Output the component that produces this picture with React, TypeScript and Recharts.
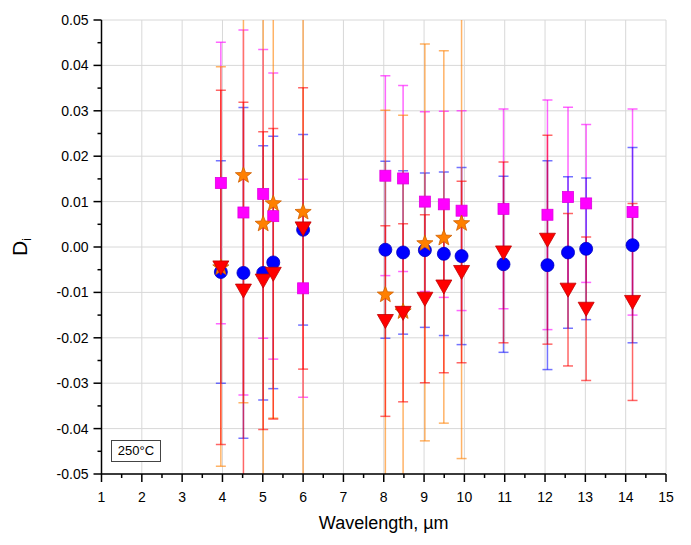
import React from "react";
import { ScatterChart, Scatter, XAxis, YAxis, CartesianGrid, ErrorBar } from "recharts";

// wavelength positions, µm (orange series only has the first 10)
const wavelength = [3.96, 4.52, 5.01, 5.26, 6.0, 8.04, 8.48, 9.02, 9.49, 9.93, 10.97, 12.06, 12.57, 13.02, 14.17];

const circleD = [-0.0055, -0.0057, -0.0057, -0.0034, 0.0038, -0.0006, -0.0012, -0.0007, -0.0015, -0.002, -0.0038, -0.004, -0.0012, -0.0004, 0.0004];
const circleErr = [0.0245, 0.0364, 0.028, 0.0278, 0.021, 0.0195, 0.018, 0.017, 0.018, 0.0195, 0.0194, 0.023, 0.0167, 0.0156, 0.0215];

const squareD = [0.0141, 0.0076, 0.0117, 0.0068, -0.0091, 0.0157, 0.0151, 0.01, 0.0094, 0.008, 0.0084, 0.0071, 0.011, 0.0096, 0.0077];
const squareErr = [0.031, 0.0402, 0.0318, 0.0315, 0.024, 0.022, 0.0205, 0.0198, 0.0205, 0.022, 0.022, 0.0253, 0.0198, 0.0174, 0.0227];

const starD = [-0.0043, 0.016, 0.0053, 0.0098, 0.0079, -0.0103, -0.014, 0.001, 0.0022, 0.0054];
const starErr = [0.044, 0.0503, 0.06, 0.0475, 0.065, 0.0404, 0.043, 0.0437, 0.041, 0.052];

const triD = [-0.0045, -0.0096, -0.0074, -0.0059, 0.0041, -0.0163, -0.0145, -0.0114, -0.0087, -0.0055, -0.0012, 0.0016, -0.0094, -0.0136, -0.0121];
const triErr = [0.039, 0.0415, 0.0328, 0.032, 0.031, 0.021, 0.0196, 0.0185, 0.019, 0.02, 0.0199, 0.023, 0.0168, 0.0158, 0.0217];

const xMajor = [1, 2, 3, 4, 5, 6, 7, 8, 9, 10, 11, 12, 13, 14, 15];
const xMinor = [1.5, 2.5, 3.5, 4.5, 5.5, 6.5, 7.5, 8.5, 9.5, 10.5, 11.5, 12.5, 13.5, 14.5];
const yMajor = [-0.05, -0.04, -0.03, -0.02, -0.01, 0, 0.01, 0.02, 0.03, 0.04, 0.05];
const yMinor = [-0.045, -0.035, -0.025, -0.015, -0.005, 0.005, 0.015, 0.025, 0.035, 0.045];

const FONT = '"Liberation Sans", Arial, sans-serif';

// plot box inside the chart (used only to clip the error bars)
const PLOT = { left: 101.5, top: 20, width: 564.5, height: 454 };

const makeSeries = (ys: number[], errs: number[]) =>
  ys.map((y, i) => ({ x: wavelength[i], y, err: errs[i] }));

const circleData = makeSeries(circleD, circleErr);
const squareData = makeSeries(squareD, squareErr);
const starData = makeSeries(starD, starErr);
const triData = makeSeries(triD, triErr);

const isMajor = (v: number, majors: number[]) => majors.some((m) => Math.abs(m - v) < 1e-9);

const BottomTick = (props: any) => {
  const { x, y, payload } = props;
  const major = isMajor(payload.value, xMajor);
  return (
    <g>
      <line x1={x} x2={x} y1={y} y2={y + (major ? 8 : 4)} stroke="#000" strokeWidth={1.5} />
      {major && (
        <text x={x} y={y + 28} textAnchor="middle" fontSize={14} fontFamily={FONT} fill="#000">
          {payload.value}
        </text>
      )}
    </g>
  );
};

const LeftTick = (props: any) => {
  const { x, y, payload } = props;
  const major = isMajor(payload.value, yMajor);
  return (
    <g>
      <line x1={x} x2={x - (major ? 8 : 4)} y1={y} y2={y} stroke="#000" strokeWidth={1.5} />
      {major && (
        <text x={x - 13} y={y + 5} textAnchor="end" fontSize={14} fontFamily={FONT} fill="#000">
          {payload.value.toFixed(2)}
        </text>
      )}
    </g>
  );
};

const TopTick = (props: any) => {
  const { x, y, payload } = props;
  const major = isMajor(payload.value, xMajor);
  return <line x1={x} x2={x} y1={y} y2={y + (major ? 8 : 4)} stroke="#000" strokeWidth={1.5} />;
};

const RightTick = (props: any) => {
  const { x, y, payload } = props;
  const major = isMajor(payload.value, yMajor);
  return <line x1={x} x2={x - (major ? 8 : 4)} y1={y} y2={y} stroke="#000" strokeWidth={1.5} />;
};

const YTitle = (props: any) => {
  const { viewBox } = props;
  const cx = viewBox.x + 27;
  const cy = viewBox.y + viewBox.height / 2;
  return (
    <text
      x={cx}
      y={cy}
      transform={`rotate(-90, ${cx}, ${cy})`}
      textAnchor="middle"
      fontSize={21}
      fontFamily={FONT}
      fill="#000"
    >
      D<tspan fontSize={12} dy={4}>i</tspan>
    </text>
  );
};

const noMarker = () => <g />;

const Circle = (p: any) => <circle cx={p.cx} cy={p.cy} r={6.5} fill="#0000ff" stroke="#0000c0" strokeWidth={0.8} />;

const Square = (p: any) => (
  <rect x={p.cx - 5.5} y={p.cy - 5.5} width={11} height={11} fill="#ff00ff" stroke="#e000e0" strokeWidth={0.8} />
);

const Star = (p: any) => {
  const pts: string[] = [];
  for (let k = 0; k < 10; k++) {
    const r = k % 2 === 0 ? 8.5 : 3.6;
    const a = -Math.PI / 2 + (k * Math.PI) / 5;
    pts.push(`${p.cx + r * Math.cos(a)},${p.cy + 1 + r * Math.sin(a)}`);
  }
  return <polygon points={pts.join(" ")} fill="#ff8000" stroke="#d06000" strokeWidth={0.8} />;
};

const Triangle = (p: any) => (
  <polygon
    points={`${p.cx - 8},${p.cy - 6.5} ${p.cx + 8},${p.cy - 6.5} ${p.cx},${p.cy + 7.5}`}
    fill="#ff0000"
    stroke="#c00000"
    strokeWidth={0.8}
  />
);

const App = () => {
  return (
    <div style={{ position: "absolute", left: 0, top: 0, width: 691, height: 545, background: "#fff" }}>
      <style>{`.recharts-errorBar { clip-path: url(#plotClip); }`}</style>
      <svg width={0} height={0} style={{ position: "absolute" }}>
        <defs>
          <clipPath id="plotClip">
            <rect x={PLOT.left} y={PLOT.top} width={PLOT.width} height={PLOT.height} />
          </clipPath>
        </defs>
      </svg>
      <ScatterChart width={691} height={545} margin={{ top: 20, right: 25, bottom: 0, left: 0 }}>
        <CartesianGrid stroke="#d8d8d8" verticalValues={xMajor} horizontalValues={yMajor} />

        {/* error bars first, all under the markers */}
        <Scatter data={squareData} shape={noMarker} isAnimationActive={false}>
          <ErrorBar dataKey="err" direction="y" width={5} stroke="rgba(255,0,255,0.6)" strokeWidth={1.5} />
        </Scatter>
        <Scatter data={circleData} shape={noMarker} isAnimationActive={false}>
          <ErrorBar dataKey="err" direction="y" width={5} stroke="rgba(0,0,255,0.55)" strokeWidth={1.5} />
        </Scatter>
        <Scatter data={starData} shape={noMarker} isAnimationActive={false}>
          <ErrorBar dataKey="err" direction="y" width={5} stroke="rgba(255,128,0,0.6)" strokeWidth={1.5} />
        </Scatter>
        <Scatter data={triData} shape={noMarker} isAnimationActive={false}>
          <ErrorBar dataKey="err" direction="y" width={5} stroke="rgba(255,0,0,0.6)" strokeWidth={1.5} />
        </Scatter>

        <Scatter data={circleData} shape={Circle} isAnimationActive={false} />
        <Scatter data={squareData} shape={Square} isAnimationActive={false} />
        <Scatter data={starData} shape={Star} isAnimationActive={false} />
        <Scatter data={triData} shape={Triangle} isAnimationActive={false} />

        <XAxis
          dataKey="x"
          type="number"
          domain={[1, 15]}
          ticks={[...xMajor, ...xMinor]}
          interval={0}
          height={71}
          tickSize={0}
          tickMargin={0}
          tick={<BottomTick />}
          axisLine={{ stroke: "#000", strokeWidth: 1.5 }}
          label={{ value: "Wavelength, µm", position: "insideBottom", offset: 16, fontSize: 18, fontFamily: FONT, fill: "#000" }}
        />
        <YAxis
          dataKey="y"
          type="number"
          domain={[-0.05, 0.05]}
          allowDataOverflow
          ticks={[...yMajor, ...yMinor]}
          interval={0}
          width={101.5}
          tickSize={0}
          tickMargin={0}
          tick={<LeftTick />}
          axisLine={{ stroke: "#000", strokeWidth: 1.5 }}
          label={<YTitle />}
        />
        <XAxis
          xAxisId="top"
          orientation="top"
          type="number"
          domain={[1, 15]}
          ticks={[...xMajor, ...xMinor]}
          interval={0}
          height={0}
          tickSize={0}
          tickMargin={0}
          tick={<TopTick />}
          axisLine={{ stroke: "#000", strokeWidth: 1.5 }}
        />
        <YAxis
          yAxisId="right"
          orientation="right"
          type="number"
          domain={[-0.05, 0.05]}
          ticks={[...yMajor, ...yMinor]}
          interval={0}
          width={0}
          tickSize={0}
          tickMargin={0}
          tick={<RightTick />}
          axisLine={{ stroke: "#000", strokeWidth: 1.5 }}
        />
      </ScatterChart>
      <div
        style={{
          position: "absolute",
          left: 111,
          top: 440,
          width: 50,
          height: 22,
          boxSizing: "border-box",
          border: "1px solid #444",
          background: "#fff",
          fontFamily: FONT,
          fontSize: 13,
          lineHeight: "20px",
          textAlign: "center",
          color: "#000",
        }}
      >
        250°C
      </div>
    </div>
  );
};

export default App;
